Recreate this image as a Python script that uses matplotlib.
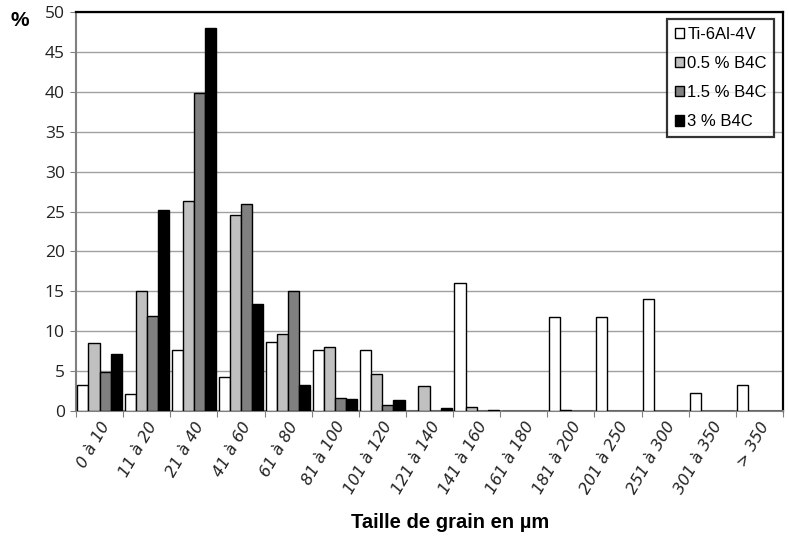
import matplotlib
matplotlib.use("Agg")
import matplotlib.pyplot as plt
import numpy as np

categories = ["0 à 10", "11 à 20", "21 à 40", "41 à 60", "61 à 80", "81 à 100",
              "101 à 120", "121 à 140", "141 à 160", "161 à 180", "181 à 200",
              "201 à 250", "251 à 300", "301 à 350", "> 350"]
ti64 = [3.3, 2.1, 7.6, 4.2, 8.6, 7.6, 7.6, 0, 16.1, 0, 11.8, 11.8, 14.0, 2.2, 3.3]
b4c_05 = [8.5, 15.0, 26.3, 24.5, 9.6, 8.0, 4.6, 3.1, 0.45, 0, 0.1, 0, 0, 0, 0]
b4c_15 = [4.9, 11.9, 39.8, 25.9, 15.1, 1.6, 0.8, 0, 0, 0, 0, 0, 0, 0, 0]
b4c_3 = [7.2, 25.2, 48.0, 13.4, 3.3, 1.45, 1.35, 0.35, 0.1, 0, 0, 0, 0, 0, 0]
series_names = ["Ti-6Al-4V", "0.5 % B4C", "1.5 % B4C", "3 % B4C"]

series = [ti64, b4c_05, b4c_15, b4c_3]
colors = ["#ffffff", "#c0c0c0", "#808080", "#000000"]

fig = plt.figure(figsize=(7.89, 5.36), dpi=100)
ax = fig.add_axes([76/789, 1-411/536, (783-76)/789, (411-12)/536])

x = np.arange(len(categories))
w = 0.235
handles = []
for i, (vals, c, name) in enumerate(zip(series, colors, series_names)):
    h = ax.bar(x - 1.5*w + i*w, vals, width=w, color=c, edgecolor="black",
               linewidth=1.0, label=name, zorder=3)
    handles.append(h)

ax.set_xlim(-0.5, len(categories) - 0.5)
ax.set_ylim(0, 50)
ax.set_yticks(np.arange(0, 51, 5))
ax.yaxis.grid(True, color="#a0a0a0", linewidth=1.0, zorder=0)
ax.set_axisbelow(True)

ax.set_xticks(np.arange(-0.5, len(categories), 1.0), minor=False)
ax.set_xticklabels([])
ax.set_xticks(x, minor=True)
ax.set_xticklabels(categories, minor=True, rotation=60, ha="right",
                   rotation_mode="anchor", fontsize=11.5, style="italic",
                   family="DejaVu Sans", color="#222222")
ax.tick_params(axis="x", which="minor", length=0, pad=6)
ax.tick_params(axis="x", which="major", length=4, color="#808080", direction="out")
ax.tick_params(axis="y", length=4, color="#808080", direction="out",
               labelsize=12.5, labelcolor="#222222", pad=4)
for lab in ax.get_yticklabels():
    lab.set_family("Open Sans")

for s in ["top", "right"]:
    ax.spines[s].set_color("black")
    ax.spines[s].set_linewidth(1.6)
for s in ["left", "bottom"]:
    ax.spines[s].set_color("#808080")
    ax.spines[s].set_linewidth(1.5)

fig.text(20/789, 1-20/536, "%", fontsize=15, fontweight="bold",
         ha="center", va="center", family="Liberation Sans")
fig.text(450/789, 1-522/536, "Taille de grain en µm", fontsize=14.5,
         fontweight="bold", ha="center", va="center", family="Liberation Sans")

leg = ax.legend(handles=handles, loc="upper right", bbox_to_anchor=(0.9875, 0.9815),
                frameon=True, fancybox=False, edgecolor="black",
                prop={"family": "Liberation Sans", "size": 12},
                handlelength=0.55, handleheight=0.55, handletextpad=0.2,
                labelspacing=0.85, borderpad=0.45, borderaxespad=0)
leg.get_frame().set_linewidth(1.6)

fig.savefig("out.png", dpi=100)
